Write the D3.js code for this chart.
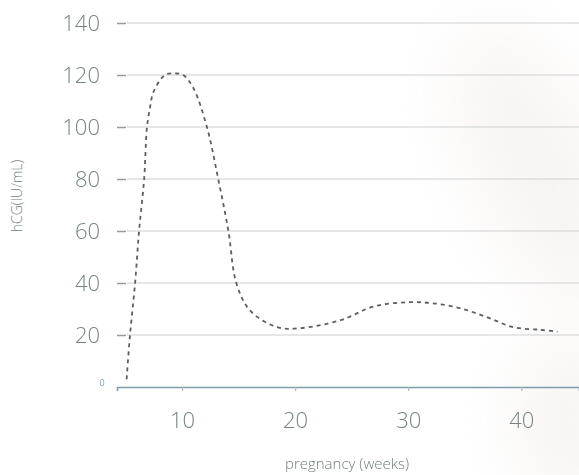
<!DOCTYPE html>
<html>
<head>
<meta charset="utf-8">
<script src="https://cdn.jsdelivr.net/npm/d3@7"></script>
<style>
  body { margin: 0; background: #fff; }
  svg { display: block; }
</style>
</head>
<body>
<div id="chart"></div>
<script>
// hCG level over the weeks of pregnancy
const weeks  = [5.1, 5.4, 5.85, 6.2, 6.65, 6.9, 7.17, 7.43, 8.05, 8.6, 9.4, 10.1, 11, 12.2, 13.2, 14.1, 14.8, 16, 18.4, 20.4, 24.1, 26.9, 29.9, 32.2, 34.6, 37, 39.3, 41.7, 43.2];
const hcg    = [3, 20, 40, 60, 80, 100, 107.5, 113, 118, 120.3, 120.6, 120, 115, 100, 80, 60, 40, 29.5, 23, 22.6, 25.8, 30.9, 32.6, 32.2, 30.3, 26.8, 23, 22, 21.3];
const yTicks = [20, 40, 60, 80, 100, 120, 140];
const xTicks = [10, 20, 30, 40];

const width = 579, height = 475;
const margin = { left: 117, right: 0, top: 23, bottom: 88 };
const font = "Open Sans";

const svg = d3.select("#chart").append("svg")
  .attr("width", width)
  .attr("height", height);

// very faint blurred background on the right
const defs = svg.append("defs");
defs.append("filter").attr("id", "blur")
  .append("feGaussianBlur").attr("stdDeviation", 35);
const bg = svg.append("g").attr("filter", "url(#blur)").attr("opacity", 0.6);
bg.append("ellipse").attr("cx", 540).attr("cy", 170).attr("rx", 60).attr("ry", 150)
  .attr("fill", "#f3ece8").attr("transform", "rotate(-25 540 170)");
bg.append("ellipse").attr("cx", 570).attr("cy", 420).attr("rx", 50).attr("ry", 80)
  .attr("fill", "#f1ebe7");

const x = d3.scaleLinear().domain([4.25, 45.1]).range([margin.left, width - margin.right]);
const y = d3.scaleLinear().domain([0, 140]).range([387, margin.top]);

// gridlines
svg.append("g")
  .selectAll("line")
  .data(yTicks)
  .join("line")
  .attr("x1", margin.left + 10)
  .attr("x2", width)
  .attr("y1", d => y(d))
  .attr("y2", d => y(d))
  .attr("stroke", "#dedede")
  .attr("stroke-width", 1.5);

// y axis: short dashes and labels
const yAxis = svg.append("g")
  .attr("transform", `translate(${margin.left + 9},0)`)
  .call(d3.axisLeft(y).tickValues(yTicks).tickSize(9).tickPadding(17));
yAxis.select(".domain").remove();
yAxis.selectAll(".tick line").attr("stroke", "#9a9a9a").attr("stroke-width", 1.5);
yAxis.selectAll(".tick text")
  .attr("fill", "#778383")
  .attr("font-family", font)
  .attr("font-weight", 300)
  .attr("font-size", 22);

svg.append("text")
  .attr("x", 102)
  .attr("y", y(0) - 1)
  .attr("text-anchor", "middle")
  .attr("fill", "#7aa0b5")
  .attr("font-family", font)
  .attr("font-size", 9)
  .text("0");

// x axis
const xAxis = svg.append("g")
  .attr("transform", `translate(0,${y(0)})`)
  .call(d3.axisBottom(x).tickValues(xTicks).tickSize(4).tickPadding(21));
xAxis.select(".domain").attr("stroke", "#7f9cab").attr("stroke-width", 1.6);
xAxis.selectAll(".tick line").attr("stroke", "#b0b8bc").attr("stroke-width", 1.2);
xAxis.selectAll(".tick text")
  .attr("fill", "#778383")
  .attr("font-family", font)
  .attr("font-weight", 300)
  .attr("font-size", 22);

// axis titles
svg.append("text")
  .attr("transform", `translate(22,196) rotate(-90)`)
  .attr("text-anchor", "middle")
  .attr("fill", "#737d7d")
  .attr("font-family", font)
  .attr("font-weight", 300)
  .attr("font-size", 14)
  .text("hCG(IU/mL)");

svg.append("text")
  .attr("x", 347)
  .attr("y", 469)
  .attr("text-anchor", "middle")
  .attr("fill", "#737d7d")
  .attr("font-family", font)
  .attr("font-weight", 300)
  .attr("font-size", 15)
  .text("pregnancy (weeks)");

// the dashed hCG curve
const pts = weeks.map((w, i) => [w, hcg[i]]);
const line = d3.line()
  .x(d => x(d[0]))
  .y(d => y(d[1]))
  .curve(d3.curveCatmullRom.alpha(0.5));

svg.append("path")
  .datum(pts)
  .attr("d", line)
  .attr("fill", "none")
  .attr("stroke", "#5a5f60")
  .attr("stroke-width", 1.8)
  .attr("stroke-dasharray", "4,4");
</script>
</body>
</html>
